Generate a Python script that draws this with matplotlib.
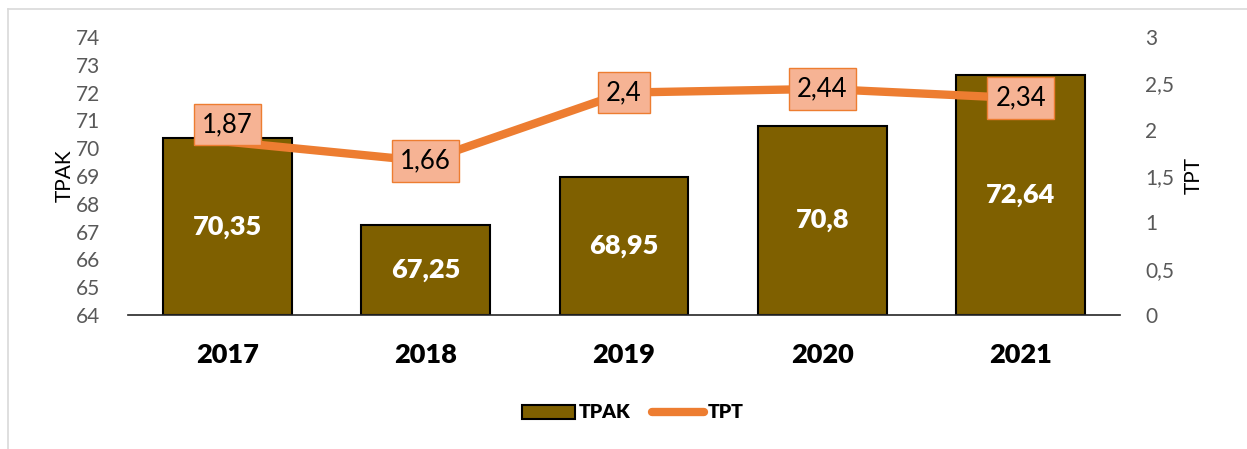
import matplotlib.pyplot as plt
from matplotlib.lines import Line2D
from matplotlib.patches import Patch

years = ["2017", "2018", "2019", "2020", "2021"]
tpak = [70.35, 67.25, 68.95, 70.8, 72.64]
tpt = [1.87, 1.66, 2.4, 2.44, 2.34]

plt.rcParams['font.family'] = ['Lato', 'DejaVu Sans']

BAR = '#7F6000'
ORANGE = '#ED7D31'
GRAY = '#595959'


def comma(v):
    return f"{v:g}".replace('.', ',')


fig = plt.figure(figsize=(12.47, 4.49), dpi=100)
ax = fig.add_axes([128 / 1247, 1 - 315 / 449, (1120 - 128) / 1247, (315 - 37) / 449])
ax2 = ax.twinx()

x = list(range(len(years)))
bars = ax.bar(x, [v - 64 for v in tpak], bottom=64, width=0.65, color=BAR,
              edgecolor='black', linewidth=1.5, zorder=2)
for xi, v in zip(x, tpak):
    ax.text(xi, (64 + v) / 2, comma(v), ha='center', va='center', color='white',
            fontsize=19.5, fontweight='heavy', zorder=3)

ax.set_xlim(-0.5, len(years) - 0.5)
ax.set_ylim(64, 74)
ax.set_yticks(range(64, 75))
ax.set_xticks(x)
ax.set_xticklabels(years, fontsize=19.5, fontweight='heavy')
ax.tick_params(axis='x', length=0, pad=20)
ax.tick_params(axis='y', length=0, labelsize=15, labelcolor=GRAY, pad=20)
ax.set_ylabel("TPAK", fontsize=15, labelpad=1)

ax2.plot(x, tpt, color=ORANGE, linewidth=6, solid_capstyle='round', zorder=4)
ax2.set_ylim(0, 3)
ax2.set_yticks([0, 0.5, 1, 1.5, 2, 2.5, 3])
ax2.set_yticklabels([comma(t) for t in [0, 0.5, 1, 1.5, 2, 2.5, 3]])
ax2.tick_params(axis='y', length=0, labelsize=15, labelcolor=GRAY, pad=18)
ax2.set_ylabel("TPT", fontsize=15, labelpad=7)

# first label was nudged up in the original
label_shift = {0: 17}
for i, v in enumerate(tpt):
    ax2.annotate(comma(v), (i, v), xytext=(0, label_shift.get(i, 0) * 0.72),
                 textcoords='offset points', ha='center', va='center', fontsize=18.5,
                 zorder=5,
                 bbox=dict(boxstyle='square,pad=0.32', facecolor='#F6B394',
                           edgecolor=ORANGE, linewidth=1))

for a in (ax, ax2):
    for s in a.spines.values():
        s.set_visible(False)
ax.spines['bottom'].set_visible(True)
ax.spines['bottom'].set_color('#262626')
ax.spines['bottom'].set_linewidth(1.2)

handles = [Patch(facecolor=BAR, edgecolor='black', linewidth=1.5, label='TPAK'),
           Line2D([0], [0], color=ORANGE, linewidth=6, solid_capstyle='round', label='TPT')]
leg = fig.legend(handles=handles, loc='center', bbox_to_anchor=(633 / 1247, 1 - 413 / 449),
                 ncol=2, frameon=False, handlelength=2.7, handletextpad=0.2,
                 columnspacing=1.1, prop={'weight': 'heavy', 'size': 14})

# chart frame
fig.add_artist(Line2D([8 / 1247, 1], [1 - 9 / 449, 1 - 9 / 449], color='#D9D9D9',
                      linewidth=1.2, transform=fig.transFigure))
fig.add_artist(Line2D([8 / 1247, 8 / 1247], [0, 1 - 9 / 449], color='#D9D9D9',
                      linewidth=1.2, transform=fig.transFigure))

fig.savefig("out.png", dpi=100)
